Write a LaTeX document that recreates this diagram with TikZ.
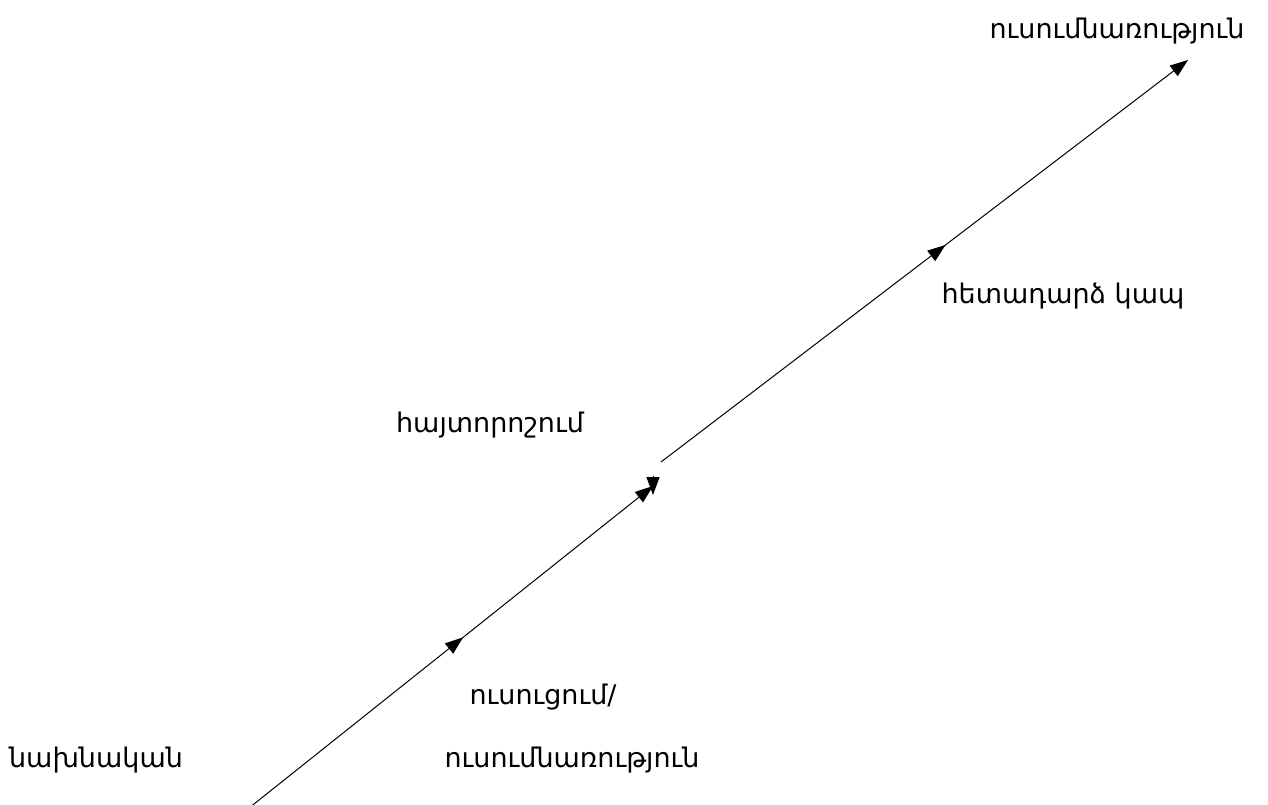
\documentclass[tikz,border=0pt]{standalone}
\usepackage{fontspec}
\setmainfont{DejaVu Sans}
\usetikzlibrary{arrows.meta, decorations.markings}
\tikzset{
  lbl/.style  = {inner sep=0pt, font=\fontsize{27}{31}\selectfont},
  tipend/.style = {-{Triangle[length=18pt, width=13pt]}, line width=1pt},
  midtip/.style = {postaction={decorate}, decoration={markings,
                   mark=at position #1 with {\arrow{Triangle[length=18pt, width=13pt]}}}},
}
\begin{document}
\begin{tikzpicture}[x=1pt, y=-1pt, line width=1pt]
  \useasboundingbox (0,0) rectangle (1268,805);

  \node[lbl] (init)  at (96,760)   {նախնական};
  \node[lbl] (teach) at (543,697)  {ուսուցում/};
  \node[lbl] (learn) at (572,760)  {ուսումնառություն};
  \node[lbl] (diag)  at (490,425)  {հայտորոշում};
  \node[lbl] (fback) at (1063,296) {հետադարձ կապ};
  \node[lbl] (goal)  at (1117,31)  {ուսումնառություն};

  \coordinate (s0) at (249,808);
  \node[inner sep=0pt, minimum size=2pt] (hayt) at (653,486) {};
  \coordinate (s1) at (661,462);
  \coordinate (s2) at (1188,60);

  \draw[tipend, midtip=0.53] (s0) -- (hayt.center);
  \draw[tipend] ([yshift=10pt]hayt.center) -- ([yshift=-9pt]hayt.center);
  \draw[tipend, midtip=0.54] (s1) -- (s2);
\end{tikzpicture}
\end{document}
